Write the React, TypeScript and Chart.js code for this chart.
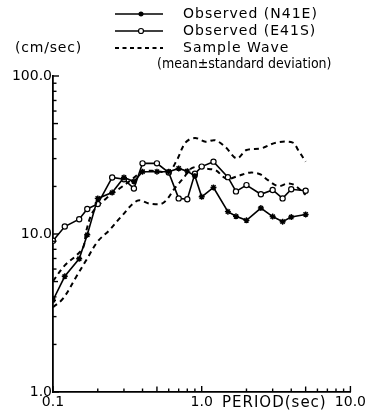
import React, { useEffect, useRef } from "react";
import { Chart, registerables } from "chart.js";

Chart.register(...registerables);

// Periods (sec) at which the observed spectra are plotted
const periods = [0.1, 0.12, 0.15, 0.17, 0.2, 0.25, 0.3, 0.35, 0.4, 0.5, 0.6, 0.7, 0.8, 0.9, 1.0, 1.2, 1.5, 1.7, 2.0, 2.5, 3.0, 3.5, 4.0, 5.0];
// Observed (N41E) velocity response (cm/sec)
const obsN41E = [3.81, 5.4, 6.97, 9.89, 16.8, 18.3, 22.8, 21.5, 24.8, 24.8, 24.8, 26.0, 25.0, 23.3, 17.2, 19.7, 13.85, 12.95, 12.2, 14.6, 12.9, 11.96, 12.8, 13.3];
// Observed (E41S) velocity response (cm/sec)
const obsE41S = [9.07, 11.15, 12.4, 14.4, 15.5, 22.8, 22.2, 19.4, 28.0, 28.0, 24.5, 16.8, 16.6, 24.1, 26.7, 28.7, 22.9, 18.6, 20.4, 17.85, 19.0, 16.8, 19.2, 18.8];

// Sample wave: mean + standard deviation
const upperPeriods = [0.1, 0.12, 0.144, 0.16, 0.168, 0.186, 0.228, 0.28, 0.334, 0.4, 0.49, 0.6, 0.68, 0.78, 0.9, 1.06, 1.23, 1.44, 1.72, 2.0, 2.53, 3.17, 4.1, 4.45, 5.0];
const upperValues = [5.03, 6.33, 7.34, 8.25, 10.6, 13.85, 16.8, 19.4, 21.9, 24.8, 25.05, 24.8, 29.3, 38.0, 40.5, 38.4, 39.2, 35.6, 30.1, 34.0, 34.9, 37.9, 37.9, 34.0, 28.7];
// Sample wave: mean - standard deviation
const lowerPeriods = [0.1, 0.117, 0.144, 0.168, 0.2, 0.24, 0.287, 0.37, 0.45, 0.55, 0.67, 0.76, 0.84, 0.95, 1.03, 1.23, 1.47, 1.76, 2.1, 2.47, 2.79, 3.27, 3.8, 4.2, 5.0];
const lowerValues = [3.44, 3.91, 5.4, 6.88, 8.98, 10.6, 12.86, 16.25, 15.54, 15.72, 19.9, 22.8, 25.8, 26.7, 26.0, 25.4, 22.4, 23.3, 24.45, 23.9, 21.9, 20.1, 20.9, 20.4, 17.7];

const xTickValues = [0.1, 1, 10];
const xTickLabels = ["0.1", "1.0", "10.0"];
const yTickValues = [1, 10, 100];
const yTickLabels = ["1.0", "10.0", "100.0"];
const xMinor = [0.2, 0.3, 0.4, 0.5, 0.6, 0.7, 0.8, 0.9, 2, 3, 4, 5, 6, 7, 8, 9];
const yMinor = [2, 3, 4, 5, 6, 7, 8, 9, 20, 30, 40, 50, 60, 70, 80, 90];

const legendLabels = ["Observed (N41E)", "Observed (E41S)", "Sample Wave", "(mean\u00b1standard deviation)"];
const yUnit = "(cm/sec)";
const xTitle = "PERIOD(sec)";

const FONT = "'DejaVu Sans', sans-serif";
const FONT_C = "'DejaVu Sans Condensed', 'DejaVu Sans', sans-serif";

const decorPlugin = {
  id: "decor",
  afterDraw(chart: any) {
    const ctx = chart.ctx;
    const xs = chart.scales.x;
    const ys = chart.scales.y;
    const area = chart.chartArea;
    ctx.save();
    ctx.strokeStyle = "#000";
    ctx.lineWidth = 1.4;
    // inward ticks
    const tick = (v: number, axis: "x" | "y", len: number) => {
      ctx.beginPath();
      if (axis === "x") {
        const px = xs.getPixelForValue(v);
        ctx.moveTo(px, area.bottom);
        ctx.lineTo(px, area.bottom - len);
      } else {
        const py = ys.getPixelForValue(v);
        ctx.moveTo(area.left, py);
        ctx.lineTo(area.left + len, py);
      }
      ctx.stroke();
    };
    xTickValues.forEach((v) => tick(v, "x", 6));
    yTickValues.forEach((v) => tick(v, "y", 6));
    xMinor.forEach((v) => tick(v, "x", v === 0.5 || v === 5 ? 5.5 : 3.5));
    yMinor.forEach((v) => tick(v, "y", v === 5 || v === 50 ? 5 : 3.5));

    ctx.fillStyle = "#000";
    ctx.textBaseline = "middle";
    ctx.textAlign = "left";
    // unit label
    ctx.font = `14px ${FONT}`;
    (ctx as any).letterSpacing = "0.8px";
    ctx.fillText(yUnit, 15, 48);
    // x title
    ctx.font = `15px ${FONT}`;
    (ctx as any).letterSpacing = "1px";
    ctx.fillText(xTitle, 222, area.bottom + 11);

    // legend
    const sx0 = 115, sx1 = 163, tx = 183;
    const rows = [14, 31, 48];
    ctx.lineWidth = 1.5;
    ctx.setLineDash([]);
    // row 1: line with star marker
    ctx.beginPath(); ctx.moveTo(sx0, rows[0]); ctx.lineTo(sx1, rows[0]); ctx.stroke();
    ctx.beginPath();
    for (let i = 0; i < 4; i++) {
      const a = (i * Math.PI) / 4;
      ctx.moveTo(141 - 2.6 * Math.cos(a), rows[0] - 2.6 * Math.sin(a));
      ctx.lineTo(141 + 2.6 * Math.cos(a), rows[0] + 2.6 * Math.sin(a));
    }
    ctx.stroke();
    // row 2: line with circle marker
    ctx.beginPath(); ctx.moveTo(sx0, rows[1]); ctx.lineTo(sx1, rows[1]); ctx.stroke();
    ctx.lineWidth = 1.2;
    ctx.beginPath(); ctx.arc(141, rows[1], 2.5, 0, Math.PI * 2);
    ctx.fillStyle = "#fff"; ctx.fill(); ctx.stroke();
    ctx.fillStyle = "#000";
    // row 3: dashed
    ctx.setLineDash([4, 3.5]);
    ctx.lineWidth = 1.9;
    ctx.beginPath(); ctx.moveTo(sx0, rows[2]); ctx.lineTo(sx1, rows[2]); ctx.stroke();
    ctx.setLineDash([]);
    ctx.font = `14px ${FONT}`;
    (ctx as any).letterSpacing = "1px";
    ctx.fillText(legendLabels[0], tx, rows[0]);
    ctx.fillText(legendLabels[1], tx, rows[1]);
    ctx.fillText(legendLabels[2], tx, rows[2]);
    ctx.font = `14px ${FONT_C}`;
    (ctx as any).letterSpacing = "0px";
    ctx.fillText(legendLabels[3], 157, 64);
    ctx.restore();
  },
};

export default function App() {
  const ref = useRef<HTMLCanvasElement | null>(null);
  useEffect(() => {
    document.body.style.margin = "0";
    const canvas = ref.current!;
    const toPts = (xs: number[], ys: number[]) => xs.map((x, i) => ({ x, y: ys[i] }));
    const chart = new Chart(canvas, {
      type: "line",
      data: {
        datasets: [
          {
            label: legendLabels[0],
            data: toPts(periods, obsN41E),
            borderColor: "#000",
            borderWidth: 1.6,
            pointStyle: "star",
            pointRadius: 3,
            pointBorderColor: "#000",
            pointBorderWidth: 1.4,
            pointBackgroundColor: "#000",
            tension: 0,
          },
          {
            label: legendLabels[1],
            data: toPts(periods, obsE41S),
            borderColor: "#000",
            borderWidth: 1.6,
            pointStyle: "circle",
            pointRadius: 2.6,
            pointBorderColor: "#000",
            pointBorderWidth: 1.2,
            pointBackgroundColor: "#fff",
            tension: 0,
          },
          {
            label: "mean+sd",
            data: toPts(upperPeriods, upperValues),
            borderColor: "#000",
            borderWidth: 2,
            borderDash: [5, 4],
            pointRadius: 0,
            tension: 0.35,
          },
          {
            label: "mean-sd",
            data: toPts(lowerPeriods, lowerValues),
            borderColor: "#000",
            borderWidth: 2,
            borderDash: [5, 4],
            pointRadius: 0,
            tension: 0.35,
          },
        ],
      },
      options: {
        responsive: false,
        animation: false,
        layout: { padding: { left: 0, right: 15, top: 76, bottom: 0 } },
        plugins: { legend: { display: false }, tooltip: { enabled: false } },
        scales: {
          x: {
            type: "logarithmic",
            min: 0.1,
            max: 10,
            afterBuildTicks: (s: any) => { s.ticks = xTickValues.map((v) => ({ value: v })); },
            afterFit: (s: any) => { s.height = 21; },
            grid: { display: false, drawTicks: false },
            border: { display: true, color: "#000", width: 1.8 },
            ticks: {
              autoSkip: false,
              maxRotation: 0,
              padding: 2,
              color: "#000",
              font: { family: FONT, size: 14 },
              callback: (v: any) => { const i = xTickValues.indexOf(Number(v)); return i >= 0 ? xTickLabels[i] : ""; },
            },
          },
          y: {
            type: "logarithmic",
            min: 1,
            max: 100,
            afterBuildTicks: (s: any) => { s.ticks = yTickValues.map((v) => ({ value: v })); },
            afterFit: (s: any) => { s.width = 53; },
            grid: { display: false, drawTicks: false },
            border: { display: true, color: "#000", width: 1.8 },
            ticks: {
              autoSkip: false,
              padding: 1,
              color: "#000",
              font: { family: FONT, size: 14 },
              callback: (v: any) => { const i = yTickValues.indexOf(Number(v)); return i >= 0 ? yTickLabels[i] : ""; },
            },
          },
        },
      },
      plugins: [decorPlugin],
    });
    return () => chart.destroy();
  }, []);
  return (
    <div style={{ position: "fixed", left: 0, top: 0, width: 368, height: 413, background: "#fff" }}>
      <canvas ref={ref} width={368} height={413} />
    </div>
  );
}
